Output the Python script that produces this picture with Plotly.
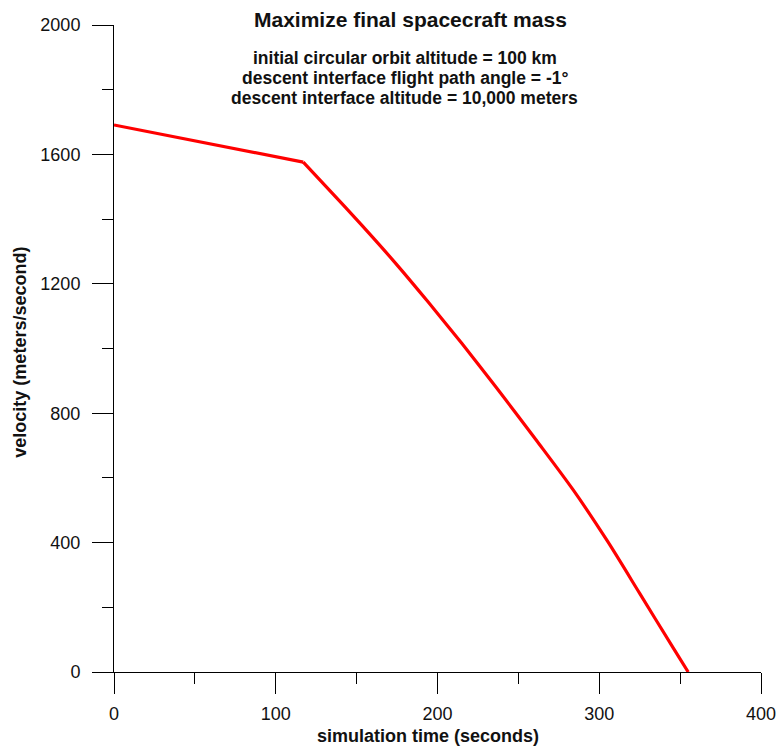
import plotly.graph_objects as go

# Data
time_s = [0, 117, 132, 153, 174, 194, 215, 236, 261, 284, 305, 325, 346, 355]
velocity = [1691, 1576, 1496, 1382, 1264, 1145, 1016, 882, 717, 562, 405, 243, 72, 0]
# index of the point where the coast phase ends and the braking burn starts
kink = 1

x_ticks = [0, 100, 200, 300, 400]
y_ticks = [0, 400, 800, 1200, 1600, 2000]

title = "Maximize final spacecraft mass"
subtitle_lines = [
    "initial circular orbit altitude = 100 km",
    "descent interface flight path angle = -1°",
    "descent interface altitude = 10,000 meters",
]
x_title = "simulation time (seconds)"
y_title = "velocity (meters/second)"

FONT = "Liberation Sans, Arial, Helvetica, sans-serif"
LINE = dict(color="#ff0000", width=3.2)

fig = go.Figure()
fig.add_trace(go.Scatter(x=time_s[:kink + 1], y=velocity[:kink + 1], mode="lines",
                         line=LINE, showlegend=False, hoverinfo="skip"))
fig.add_trace(go.Scatter(x=time_s[kink:], y=velocity[kink:], mode="lines",
                         line=dict(shape="spline", smoothing=0.8, **LINE),
                         showlegend=False, hoverinfo="skip"))

axis_common = dict(
    showgrid=False, zeroline=False, showline=True, linecolor="black", linewidth=1,
    ticks="outside", ticklen=21, tickwidth=1, tickcolor="black", automargin=False,
    tickfont=dict(family=FONT, size=18, color="#111"),
)

fig.update_xaxes(range=[0, 400], tickvals=x_ticks, ticklabelstandoff=4,
                 minor=dict(dtick=50, ticklen=11, ticks="outside", tickcolor="black", tickwidth=1),
                 **axis_common)
fig.update_yaxes(range=[0, 2000], tickvals=y_ticks, ticklabelstandoff=8,
                 minor=dict(dtick=200, ticklen=11, ticks="outside", tickcolor="black", tickwidth=1),
                 **axis_common)

bold = dict(family=FONT, color="#111")
annotations = [
    dict(text="<b>" + title + "</b>", x=0.459, y=1.008, font=dict(size=21, **bold)),
]
for i, line in enumerate(subtitle_lines):
    annotations.append(dict(text="<b>" + line + "</b>", x=0.4495,
                            y=(671.7 - (58 + 20 * i)) / 646.4, font=dict(size=17.5, **bold)))
annotations.append(dict(text="<b>" + x_title + "</b>", x=0.485, y=-0.0995, font=dict(size=18, **bold)))
annotations.append(dict(text="<b>" + y_title + "</b>", x=-0.1458, y=0.4946, textangle=-90,
                        font=dict(size=18, **bold)))
for a in annotations:
    a.update(xref="paper", yref="paper", showarrow=False, xanchor="center", yanchor="middle")

fig.update_layout(
    width=782, height=749,
    margin=dict(l=114, r=21, t=25, b=77),
    paper_bgcolor="white", plot_bgcolor="white",
    annotations=annotations,
    font=dict(family=FONT),
)

# remove the page's default body margin so the figure fills the window exactly
fig.write_html("out.html", config={"displayModeBar": False},
               post_script="document.body.style.margin='0';document.body.style.overflow='hidden';")
